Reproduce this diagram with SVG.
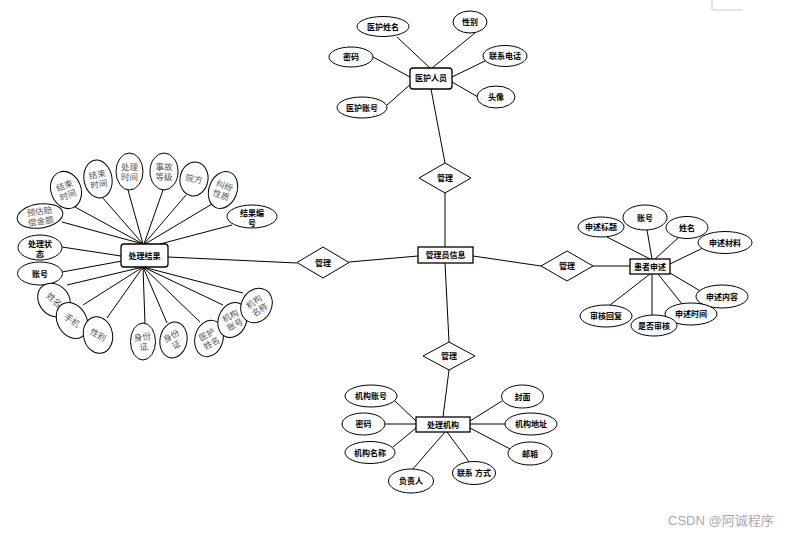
<svg xmlns="http://www.w3.org/2000/svg" width="787" height="534" viewBox="0 0 787 534">
<style>
.l{stroke:#000;stroke-width:1;fill:none}
.e{fill:#fff;stroke:#000;stroke-width:1}
.b{fill:#fff;stroke:#000;stroke-width:1.3}
.d{fill:#fff;stroke:#000;stroke-width:1}
.t{font-family:"Liberation Sans","Noto Sans CJK SC",sans-serif;font-size:8px;fill:#000;text-anchor:middle;font-weight:bold}
.s{font-family:"Liberation Serif","Noto Sans CJK SC",serif;font-size:8.5px;fill:#555;text-anchor:middle}
.w{font-family:"Liberation Sans","Noto Sans CJK SC",sans-serif;font-size:13px;fill:#aaa}
</style>
<rect width="787" height="534" fill="#fff"/>
<path d="M712 0V10H742" stroke="#ccc" fill="none"/>
<g id="connectors" class="l">
<line x1="397" y1="37" x2="430" y2="68"/>
<line x1="475" y1="33" x2="432" y2="68"/>
<line x1="373" y1="57" x2="410" y2="77"/>
<line x1="487" y1="60" x2="452" y2="77"/>
<line x1="478" y1="97" x2="452" y2="82"/>
<line x1="387" y1="105" x2="412" y2="83"/>
<line x1="431" y1="89" x2="445" y2="163"/>
<line x1="445" y1="193" x2="445" y2="247"/>
<line x1="349" y1="262" x2="418" y2="256"/>
<line x1="168" y1="257" x2="297" y2="263"/>
<line x1="473" y1="256" x2="541" y2="266"/>
<line x1="593" y1="266" x2="630" y2="266"/>
<line x1="445" y1="263" x2="449" y2="342"/>
<line x1="449" y1="370" x2="443" y2="417"/>
<line x1="607" y1="237" x2="650" y2="259"/>
<line x1="647" y1="230" x2="652" y2="259"/>
<line x1="678" y1="238" x2="655" y2="259"/>
<line x1="705" y1="247" x2="670" y2="264"/>
<line x1="702" y1="292" x2="670" y2="273"/>
<line x1="682" y1="304" x2="658" y2="274"/>
<line x1="652" y1="316" x2="652" y2="274"/>
<line x1="610" y1="305" x2="650" y2="274"/>
<line x1="395" y1="401" x2="416" y2="421"/>
<line x1="385" y1="424" x2="416" y2="424"/>
<line x1="393" y1="447" x2="416" y2="428"/>
<line x1="412" y1="470" x2="445" y2="432"/>
<line x1="470" y1="463" x2="447" y2="432"/>
<line x1="512" y1="450" x2="470" y2="428"/>
<line x1="505" y1="424" x2="470" y2="424"/>
<line x1="502" y1="401" x2="470" y2="421"/>
<line x1="62" y1="222" x2="143" y2="244"/>
<line x1="75" y1="207" x2="143" y2="244"/>
<line x1="102" y1="197" x2="143" y2="244"/>
<line x1="128" y1="190" x2="143" y2="244"/>
<line x1="163" y1="190" x2="144" y2="244"/>
<line x1="186" y1="195" x2="144" y2="244"/>
<line x1="212" y1="204" x2="145" y2="244"/>
<line x1="232" y1="225" x2="160" y2="244"/>
<line x1="62" y1="247" x2="121" y2="256"/>
<line x1="62" y1="272" x2="122" y2="261"/>
<line x1="67" y1="285" x2="143" y2="267"/>
<line x1="83" y1="305" x2="143" y2="267"/>
<line x1="107" y1="318" x2="143" y2="267"/>
<line x1="145" y1="324" x2="143" y2="267"/>
<line x1="167" y1="323" x2="143" y2="267"/>
<line x1="200" y1="322" x2="143" y2="267"/>
<line x1="223" y1="305" x2="143" y2="267"/>
<line x1="243" y1="293" x2="143" y2="267"/>
</g>
<g id="admin"><rect class="b" x="418" y="247" width="55" height="16"/><text class="t" x="445.5" y="258">管理员信息</text></g>
<g id="rel-top"><polygon class="d" points="445,163 471,178 445,193 419,178"/><text class="t" x="445" y="181">管理</text></g>
<g id="rel-left"><polygon class="d" points="323,247 349,262.5 323,278 297,262.5"/><text class="t" x="323" y="265.5">管理</text></g>
<g id="rel-right"><polygon class="d" points="567,251 593,266 567,281 541,266"/><text class="t" x="567" y="269">管理</text></g>
<g id="rel-bottom"><polygon class="d" points="449,342 475,356 449,370 423,356"/><text class="t" x="449" y="359">管理</text></g>
<g id="yihu"><rect class="b" x="410" y="68" width="42" height="21" rx="3"/><text class="t" x="431" y="81">医护人员</text></g>
<g id="yihu-name"><ellipse class="e" cx="383" cy="26.5" rx="26" ry="10"/><text class="t" x="383" y="29.5">医护姓名</text></g>
<g id="yihu-sex"><ellipse class="e" cx="470" cy="22" rx="17" ry="11"/><text class="t" x="470" y="25">性别</text></g>
<g id="yihu-pwd"><ellipse class="e" cx="351" cy="57" rx="22" ry="10"/><text class="t" x="351" y="60">密码</text></g>
<g id="yihu-tel"><ellipse class="e" cx="505" cy="56" rx="22" ry="10.5"/><text class="t" x="505" y="59">联系电话</text></g>
<g id="yihu-avatar"><ellipse class="e" cx="496" cy="97" rx="19" ry="11"/><text class="t" x="496" y="100">头像</text></g>
<g id="yihu-acct"><ellipse class="e" cx="362" cy="107.5" rx="25" ry="10.5"/><text class="t" x="362" y="110.5">医护账号</text></g>
<g id="shensu"><rect class="b" x="630" y="259" width="40" height="15"/><text class="t" x="650" y="269.5">患者申述</text></g>
<g id="ss-title"><ellipse class="e" cx="601" cy="227" rx="23" ry="10"/><text class="t" x="601" y="230">申述标题</text></g>
<g id="ss-acct"><ellipse class="e" cx="645" cy="217.5" rx="22" ry="12.5"/><text class="t" x="645" y="220.5">账号</text></g>
<g id="ss-name"><ellipse class="e" cx="687" cy="227.5" rx="21" ry="11"/><text class="t" x="687" y="230.5">姓名</text></g>
<g id="ss-mat"><ellipse class="e" cx="725" cy="242.5" rx="27" ry="11"/><text class="t" x="725" y="245.5">申述材料</text></g>
<g id="ss-content"><ellipse class="e" cx="722" cy="296.5" rx="26" ry="11.5"/><text class="t" x="722" y="299.5">申述内容</text></g>
<g id="ss-time"><ellipse class="e" cx="691" cy="314" rx="26" ry="11"/><text class="t" x="691" y="317">申述时间</text></g>
<g id="ss-audit"><ellipse class="e" cx="654" cy="325.5" rx="23" ry="10.5"/><text class="t" x="654" y="328.5">是否审核</text></g>
<g id="ss-reply"><ellipse class="e" cx="606" cy="316" rx="26" ry="11"/><text class="t" x="606" y="319">审核回复</text></g>
<g id="jigou"><rect class="b" x="416" y="417" width="54" height="15"/><text class="t" x="443" y="427.5">处理机构</text></g>
<g id="jg-acct"><ellipse class="e" cx="371" cy="396" rx="26" ry="11"/><text class="t" x="371" y="399">机构账号</text></g>
<g id="jg-pwd"><ellipse class="e" cx="363.5" cy="424" rx="21.5" ry="11"/><text class="t" x="363.5" y="427">密码</text></g>
<g id="jg-name"><ellipse class="e" cx="370" cy="452.5" rx="25" ry="11"/><text class="t" x="370" y="455.5">机构名称</text></g>
<g id="jg-head"><ellipse class="e" cx="411" cy="481" rx="22.5" ry="12"/><text class="t" x="411" y="484">负责人</text></g>
<g id="jg-contact"><ellipse class="e" cx="474" cy="473" rx="21.5" ry="11.5"/><text class="t" x="474" y="476">联系 方式</text></g>
<g id="jg-mail"><ellipse class="e" cx="530" cy="453.5" rx="22" ry="11.5"/><text class="t" x="530" y="456.5">邮箱</text></g>
<g id="jg-addr"><ellipse class="e" cx="531" cy="424" rx="26" ry="11"/><text class="t" x="531" y="427">机构地址</text></g>
<g id="jg-cover"><ellipse class="e" cx="522.5" cy="396.5" rx="21" ry="11.5"/><text class="t" x="522.5" y="399.5">封面</text></g>
<g id="jieguo"><rect class="b" x="121" y="244" width="47" height="23" rx="3"/><text class="t" x="144.5" y="258.5">处理结果</text></g>
<g id="jg-pred" transform="translate(40,216) rotate(-8)"><ellipse class="e" rx="23" ry="12"/><text class="s" y="-1.5">预估赔</text><text class="s" y="8.5">偿金额</text></g>
<g id="jg-end1" transform="translate(66,190) rotate(-20)"><ellipse class="e" rx="15" ry="19"/><text class="s" y="-1.5">结束</text><text class="s" y="8.5">时间</text></g>
<g id="jg-end2" transform="translate(98,179) rotate(-10)"><ellipse class="e" rx="14" ry="19"/><text class="s" y="-1.5">结束</text><text class="s" y="8.5">时间</text></g>
<g id="jg-proc" transform="translate(129.5,171.5)"><ellipse class="e" rx="13.5" ry="18.5"/><text class="s" y="-1.5">处理</text><text class="s" y="8.5">时间</text></g>
<g id="jg-level" transform="translate(164,171.5)"><ellipse class="e" rx="14" ry="18.5"/><text class="s" y="-1.5">事故</text><text class="s" y="8.5">等级</text></g>
<g id="jg-hosp" transform="translate(194,179) rotate(10)"><ellipse class="e" rx="14" ry="17"/><text class="s" y="3">院方</text></g>
<g id="jg-type" transform="translate(223,190) rotate(20)"><ellipse class="e" rx="14" ry="19"/><text class="s" y="-1.5">纠纷</text><text class="s" y="8.5">性质</text></g>
<g id="jg-no" transform="translate(252,216.5)"><ellipse class="e" rx="25" ry="11.5"/><text class="t" y="-1">结果编</text><text class="t" y="9">号</text></g>
<g id="jg-state" transform="translate(40,247.5)"><ellipse class="e" rx="22" ry="12.5"/><text class="t" y="-1">处理状</text><text class="t" y="9">态</text></g>
<g id="jg-zh" transform="translate(40,273.5)"><ellipse class="e" rx="22.5" ry="11.5"/><text class="t" y="3">账号</text></g>
<g id="jg-xm" transform="translate(54,300)"><ellipse class="e" rx="18" ry="15" transform="rotate(50)"/><text class="s" y="3" transform="rotate(42)">姓名</text></g>
<g id="jg-sj" transform="translate(72,320.5)"><ellipse class="e" rx="19" ry="14.5" transform="rotate(60)"/><text class="s" y="3" transform="rotate(35)">手机</text></g>
<g id="jg-xb" transform="translate(98,335)"><ellipse class="e" rx="14.5" ry="18.5" transform="rotate(-12)"/><text class="s" y="3" transform="rotate(30)">性别</text></g>
<g id="jg-sfz1" transform="translate(143,341.5)"><ellipse class="e" rx="12.5" ry="18.5"/><g transform="rotate(-8)"><text class="s" y="-1.5">身份</text><text class="s" y="8.5">证</text></g></g>
<g id="jg-sfz2" transform="translate(173.5,340)"><ellipse class="e" rx="13.5" ry="18" transform="rotate(10)"/><g transform="rotate(-30)"><text class="s" y="-1.5">身份</text><text class="s" y="8.5">证</text></g></g>
<g id="jg-yhxm" transform="translate(209,338.5)"><ellipse class="e" rx="14" ry="18.5" transform="rotate(15)"/><g transform="rotate(-28)"><text class="s" y="-1.5">医护</text><text class="s" y="8.5">姓名</text></g></g>
<g id="jg-jgzh" transform="translate(232.5,320)"><ellipse class="e" rx="14" ry="18" transform="rotate(22)"/><g transform="rotate(-28)"><text class="s" y="-1.5">机构</text><text class="s" y="8.5">账号</text></g></g>
<g id="jg-jgmc" transform="translate(256.5,305.5)"><ellipse class="e" rx="15" ry="18" transform="rotate(30)"/><g transform="rotate(-35)"><text class="s" y="-1.5">机构</text><text class="s" y="8.5">名称</text></g></g>
<text class="w" x="668" y="525">CSDN @阿诚程序</text>
</svg>
